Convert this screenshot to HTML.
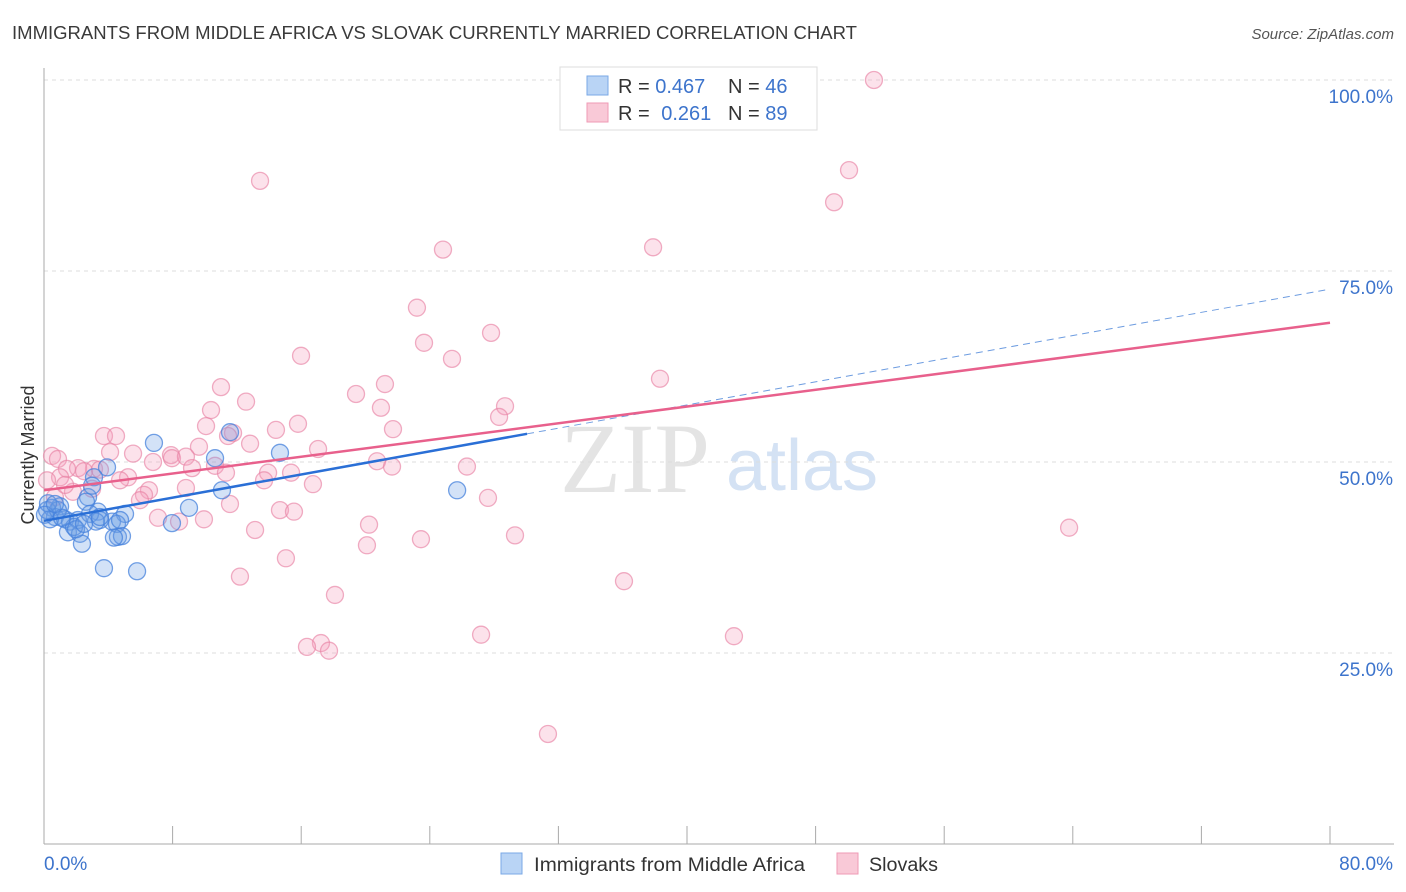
<!DOCTYPE html>
<html><head><meta charset="utf-8"><style>
body{margin:0;background:#fff;font-family:"Liberation Sans",sans-serif;}
svg{display:block}
</style></head><body>
<svg id="chart" width="1406" height="892">
<text x="12" y="39" font-size="18" fill="#3a3a3a" textLength="845" lengthAdjust="spacingAndGlyphs">IMMIGRANTS FROM MIDDLE AFRICA VS SLOVAK CURRENTLY MARRIED CORRELATION CHART</text>
<text x="1394" y="39" font-size="15" fill="#555" font-style="italic" text-anchor="end">Source: ZipAtlas.com</text>
<text x="635" y="492" font-size="100" fill="#e4e4e4" font-family="Liberation Serif,serif" text-anchor="middle">ZIP</text>
<text x="802" y="490" font-size="72" fill="#d4e2f4" text-anchor="middle">atlas</text>
<g id="grid"></g><g id="axes"></g><g id="lines"></g><g id="pts"></g>
<text x="34" y="455" font-size="18" fill="#333" text-anchor="middle" transform="rotate(-90 34 455)">Currently Married</text>
<g>
<rect x="560" y="67" width="257" height="63" fill="#fff" stroke="#ddd"/>
<rect x="587" y="76" width="21" height="19" fill="#b9d4f5" stroke="#7aa8e6"/>
<rect x="587" y="103" width="21" height="19" fill="#f9c9d7" stroke="#ef9ab5"/>
<text x="618" y="93" font-size="20" fill="#333">R = <tspan fill="#3d74cc">0.467</tspan></text>
<text x="728" y="93" font-size="20" fill="#333">N = <tspan fill="#3d74cc">46</tspan></text>
<text x="618" y="120" font-size="20" fill="#333">R = <tspan fill="#3d74cc" dx="6">0.261</tspan></text>
<text x="728" y="120" font-size="20" fill="#333">N = <tspan fill="#3d74cc">89</tspan></text>
</g>
<g>
<rect x="501" y="853" width="21" height="21" fill="#b9d4f5" stroke="#7aa8e6"/>
<text x="534" y="871" font-size="19" fill="#333" textLength="271" lengthAdjust="spacingAndGlyphs">Immigrants from Middle Africa</text>
<rect x="837" y="853" width="21" height="21" fill="#f9c9d7" stroke="#ef9ab5"/>
<text x="869" y="871" font-size="19" fill="#333" textLength="69" lengthAdjust="spacingAndGlyphs">Slovaks</text>
</g>
</svg>
<script>
const blueX=[6.84,11.57,14.68,10.64,3.92,3.11,2.74,2.61,11.07,9.02,5.04,3.36,1.0,0.5,0.68,1.31,1.62,2.11,4.23,4.54,3.48,1.49,2.24,2.36,4.6,4.85,7.96,3.73,5.79,25.7,0.37,0.19,0.87,1.87,2.86,2.99,3.23,4.35,0.25,1.12,1.99,3.48,2.49,0.06,4.73,0.68];
const blueY=[52.5,53.9,51.2,50.5,49.3,48.0,45.4,44.8,46.3,44.0,43.2,43.5,44.2,44.0,42.8,42.5,42.2,42.4,42.2,41.9,42.4,40.8,40.6,39.3,40.2,40.3,42.0,36.1,35.7,46.3,42.5,43.7,43.7,41.5,43.2,46.9,42.2,40.1,44.6,42.7,41.2,42.8,41.9,43.1,42.4,44.5];
const pinkX=[51.63,50.08,49.15,37.89,13.44,24.82,23.2,27.81,23.64,25.38,15.99,38.32,21.21,11.01,19.41,12.57,10.39,20.96,28.68,15.8,10.08,21.71,14.43,28.31,11.76,12.82,3.73,4.48,9.64,11.45,7.9,0.5,0.87,4.11,5.54,7.96,8.83,17.05,20.72,21.65,26.31,6.78,10.64,9.21,3.11,2.12,1.43,2.49,1.0,5.23,11.32,13.94,15.37,13.69,16.73,8.83,6.53,2.99,1.8,6.22,0.68,11.57,14.68,15.55,27.62,7.09,8.4,9.95,13.13,20.22,23.45,29.3,63.77,20.09,12.19,15.05,36.08,18.1,27.19,42.92,17.23,16.36,17.73,31.35,0.19,1.31,3.48,4.73,5.97];
const pinkY=[100.0,88.2,84.0,78.1,86.8,77.8,70.2,66.9,65.6,63.5,63.9,60.9,60.2,59.8,58.9,57.9,56.8,57.1,57.3,55.0,54.7,54.3,54.2,55.9,53.8,52.4,53.4,53.4,52.0,53.4,50.9,50.8,50.4,51.3,51.1,50.5,50.7,51.7,50.1,49.4,49.4,50.0,49.5,49.2,49.1,49.2,49.1,48.8,48.0,48.0,48.6,48.6,48.6,47.6,47.1,46.6,46.3,46.5,46.1,45.7,45.4,44.5,43.7,43.5,45.3,42.7,42.2,42.5,41.1,41.8,39.9,40.4,41.4,39.1,35.0,37.4,34.4,32.6,27.4,27.2,26.3,25.8,25.3,14.4,47.6,47.0,49.0,47.6,45.0];
const yTicks=[25,50,75,100];
const yTickLabels=["25.0%","50.0%","75.0%","100.0%"];
const blueTrend=[42.3,0.379,30.05];
const pinkTrend=[46.3,0.274];
const NS='http://www.w3.org/2000/svg';
const X0=44,X1=1330,Y0=844,Y1=80;
const sx=v=>X0+(v/80)*(X1-X0), sy=v=>Y0-(v/100)*(Y0-Y1);
function mk(tag,attrs,parent){const e=document.createElementNS(NS,tag);for(const k in attrs)e.setAttribute(k,attrs[k]);document.getElementById(parent).appendChild(e);return e;}
yTicks.forEach((t,i)=>{
 const g=mk('line',{x1:X0,x2:1394,y1:sy(t),y2:sy(t),stroke:'#ddd','stroke-dasharray':'4,4'},'grid');
 
 
 const l=mk('text',{x:1393,y:sy(t)+23,'font-size':19,fill:'#3d74cc','text-anchor':'end'},'grid');
 l.textContent=yTickLabels[i];
 
 
});
const ax=mk('line',{x1:X0,x2:X0,y1:68,y2:Y0,stroke:'#aaa'},'axes');


const bx=mk('line',{x1:X0,x2:1394,y1:Y0,y2:Y0,stroke:'#aaa'},'axes');


for(let v=8;v<=80;v+=8){const t=mk('line',{x1:sx(v),x2:sx(v),y1:Y0,y2:Y0-18,stroke:'#aaa'},'axes');
 
 }
const xl=mk('text',{x:44,y:870,'font-size':19,fill:'#3d74cc'},'axes');xl.textContent='0.0%';


const xr=mk('text',{x:1393,y:870,'font-size':19,fill:'#3d74cc','text-anchor':'end'},'axes');xr.textContent='80.0%';


pinkX.forEach((x,i)=>{const c=mk('circle',{cx:sx(x),cy:sy(pinkY[i]),r:8.5,fill:'rgba(244,160,188,0.3)',stroke:'rgba(232,130,165,0.65)','stroke-width':1.3},'pts');
 
 });
blueX.forEach((x,i)=>{const c=mk('circle',{cx:sx(x),cy:sy(blueY[i]),r:8.5,fill:'rgba(110,160,230,0.3)',stroke:'rgba(70,130,220,0.75)','stroke-width':1.3},'pts');
 
 });
const bl=t=>blueTrend[0]+blueTrend[1]*t, pl=t=>pinkTrend[0]+pinkTrend[1]*t;
const d=mk('line',{x1:sx(blueTrend[2]),y1:sy(bl(blueTrend[2])),x2:sx(80),y2:sy(bl(80)),stroke:'#6d9ce0','stroke-width':1,'stroke-dasharray':'7,5'},'pts');


const p=mk('line',{x1:sx(0),y1:sy(pl(0)),x2:sx(80),y2:sy(pl(80)),stroke:'#e8608c','stroke-width':2.5},'pts');


const b=mk('line',{x1:sx(0),y1:sy(bl(0)),x2:sx(blueTrend[2]),y2:sy(bl(blueTrend[2])),stroke:'#2a6fd6','stroke-width':2.5},'pts');


</script>
</body></html>
